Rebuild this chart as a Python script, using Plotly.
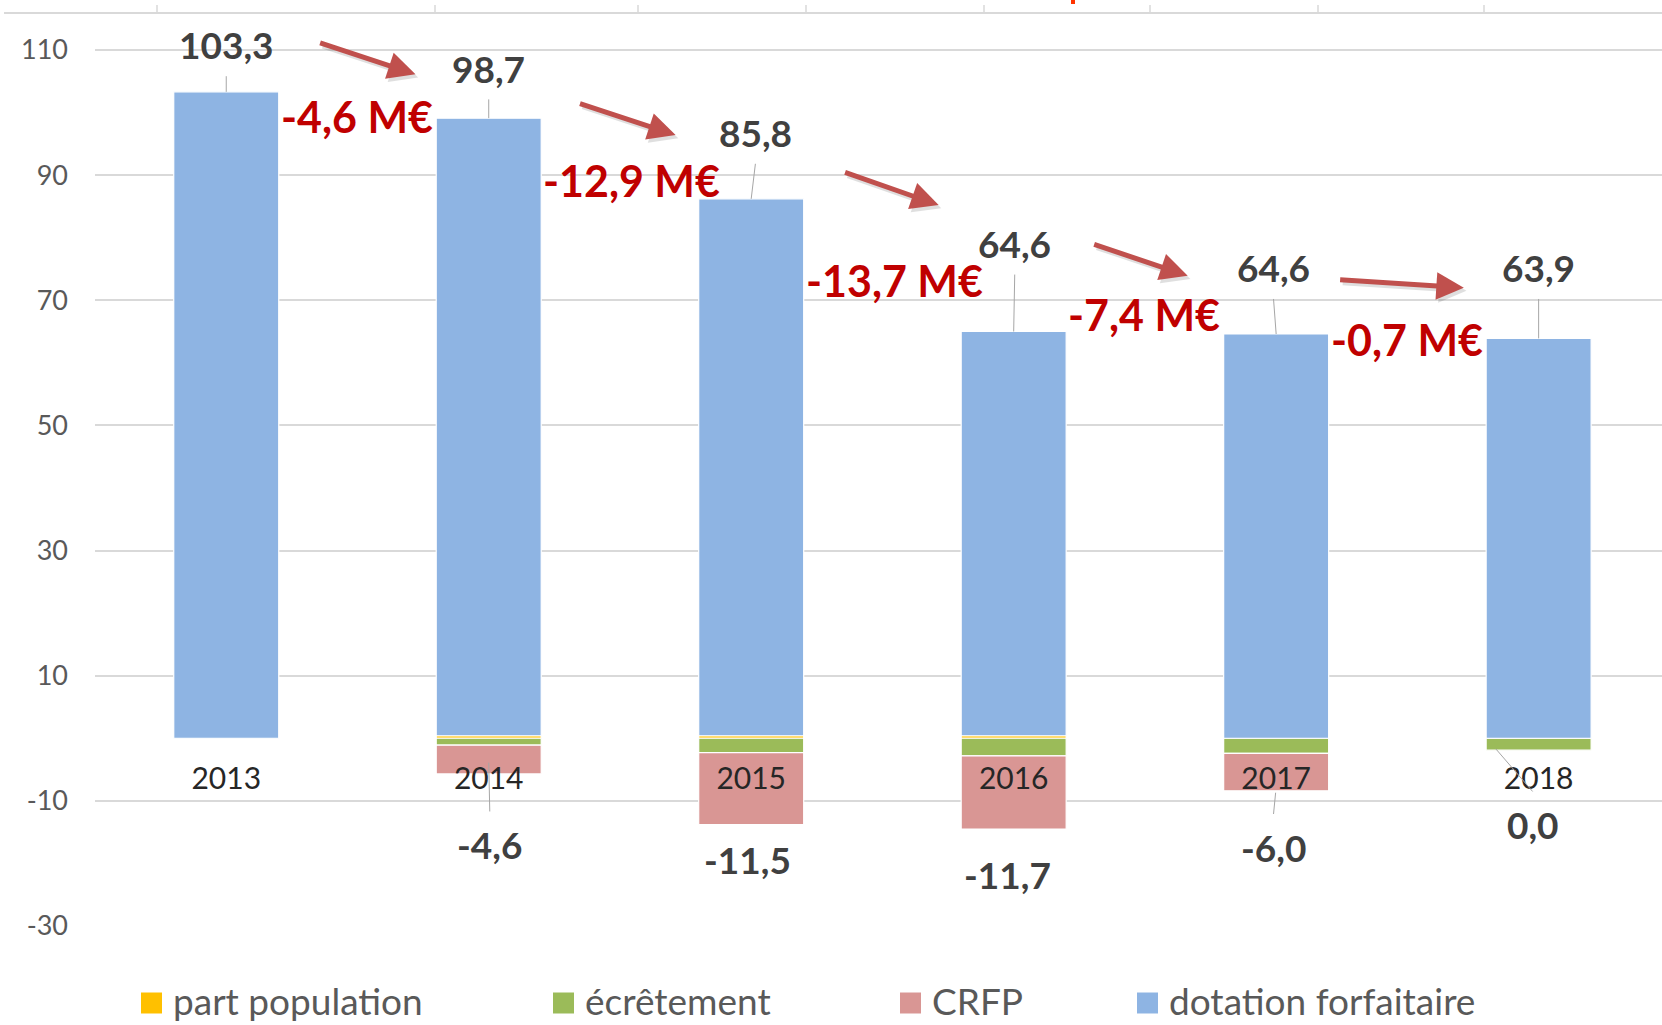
import plotly.graph_objects as go

# ---------------- data ----------------
years = ["2013", "2014", "2015", "2016", "2017", "2018"]
part_population = [0.0, 0.4, 0.4, 0.4, 0.0, 0.0]
ecretement = [0.0, -1.1, -2.3, -2.8, -2.4, -1.9]
crfp = [0.0, -4.6, -11.5, -11.7, -6.0, 0.0]
dotation = [103.3, 98.7, 85.8, 64.6, 64.6, 63.9]
variation_labels = ["-4,6 M€", "-12,9 M€", "-13,7 M€", "-7,4 M€", "-0,7 M€"]
series_names = ["part population", "écrêtement", "CRFP", "dotation forfaitaire"]
series_colors = ["#FFC000", "#9BBB59", "#D99694", "#8EB4E3"]
ytick_values = [-30, -10, 10, 30, 50, 70, 90, 110]

# ---------------- geometry helpers ----------------
W, H = 1662, 1025
ML, MR, MT, MB = 95, 0, 13, 99
PW, PH = W - ML - MR, H - MT - MB
YMIN, YMAX = -30, 115.9
XMIN, XMAX = -0.5, 5.47


def fr(v):
    s = f"{abs(v):.1f}".replace(".", ",")
    return ("-" + s) if v < -0.04 else s


def pxx(p):
    return (p - ML) / PW


def pxy(p):
    return (H - MB - p) / PH


FONT = "Lato, 'Open Sans', sans-serif"
xs = list(range(len(years)))

fig = go.Figure()
for name, vals, col in zip(series_names, [part_population, ecretement, crfp, dotation], series_colors):
    fig.add_trace(go.Bar(
        x=xs, y=vals, name=name, width=0.4,
        marker=dict(color=col, line=dict(color="white", width=1.2)),
        showlegend=False,
    ))

annotations = []
shapes = []

# top data labels (dotation forfaitaire)
top_dx = [0, 0, 0.016, 0.004, -0.01, 0]
top_dy = [7.5, 8.4, 11.0, 14.5, 10.6, 11.3]
for i, v in enumerate(dotation):
    base = v + max(part_population[i], 0)
    ly = v + top_dy[i]
    lx = i + top_dx[i]
    annotations.append(dict(x=lx, y=ly, xref="x", yref="y", text=fr(v), showarrow=False,
                            font=dict(family=FONT, size=37, color="#404040", weight="bold")))
    shapes.append(dict(type="line", xref="x", yref="y", x0=lx, y0=ly - 5.0, x1=i, y1=base,
                       line=dict(color="#A6A6A6", width=1)))

# bottom data labels (CRFP)
bot_dx = [0.004, -0.014, -0.022, -0.01, -0.023]
bot_y = [-17.0, -19.4, -21.7, -17.4, -13.8]
bot_leader = [(1.0, -3.9), None, None, (3.998, -8.7), (4.837, -1.7)]
for k, i in enumerate(range(1, len(years))):
    lx = i + bot_dx[k]
    ly = bot_y[k]
    annotations.append(dict(x=lx, y=ly, xref="x", yref="y", text=fr(crfp[i]), showarrow=False,
                            font=dict(family=FONT, size=37, color="#404040", weight="bold")))
    if bot_leader[k] is not None:
        sx, sy = bot_leader[k]
        shapes.append(dict(type="line", xref="x", yref="y", x0=sx, y0=sy, x1=lx, y1=ly + 5.3,
                           line=dict(color="#A6A6A6", width=1)))

# red variation labels
var_y = [99.3, 89.2, 73.1, 67.7, 63.8]
for i, t in enumerate(variation_labels):
    annotations.append(dict(x=i + 0.2, y=var_y[i], xref="x", yref="y", text=t, showarrow=False,
                            xanchor="left", yanchor="middle",
                            font=dict(family=FONT, size=43, color="#C00000", weight="bold")))

# arrows
arrows = [((0.352, 111.2), (0.721, 106.1)),
          ((1.342, 101.5), (1.712, 96.4)),
          ((2.352, 90.5), (2.714, 85.2)),
          ((3.301, 79.0), (3.663, 73.9)),
          ((4.238, 73.3), (4.715, 72.0))]
for (tx, ty), (hx, hy) in arrows:
    annotations.append(dict(x=hx + 0.01, y=hy - 0.5, ax=tx + 0.01, ay=ty - 0.5, xref="x", yref="y",
                            axref="x", ayref="y", text="", showarrow=True, arrowhead=2,
                            arrowsize=1.1, arrowwidth=5, arrowcolor="rgba(0,0,0,0.12)"))
    annotations.append(dict(x=hx, y=hy, ax=tx, ay=ty, xref="x", yref="y", axref="x", ayref="y",
                            text="", showarrow=True, arrowhead=2, arrowsize=1.1, arrowwidth=5,
                            arrowcolor="#C0504D"))

# manual legend
leg_marker_px = [141, 553, 900, 1137]
leg_y = 1003
for name, col, mx in zip(series_names, series_colors, leg_marker_px):
    shapes.append(dict(type="rect", xref="paper", yref="paper", xsizemode="pixel", ysizemode="pixel",
                       xanchor=pxx(mx), yanchor=pxy(leg_y), x0=0, x1=21, y0=-10.5, y1=10.5,
                       fillcolor=col, line=dict(width=0), layer="above"))
    annotations.append(dict(x=pxx(mx + 30), y=pxy(H), xref="paper", yref="paper", text=name,
                            showarrow=False, xanchor="left", yanchor="bottom",
                            font=dict(family=FONT, size=37, color="#595959")))

# top border line (cropped chart above) with ticks
shapes.append(dict(type="line", xref="paper", yref="paper", x0=pxx(4), x1=1, y0=1, y1=1,
                   line=dict(color="#D9D9D9", width=2)))
for tx in [157, 435, 638, 806, 984, 1150, 1318, 1484]:
    shapes.append(dict(type="line", xref="paper", yref="paper", x0=pxx(tx), x1=pxx(tx),
                       y0=1, y1=pxy(5), line=dict(color="#D9D9D9", width=1.5)))
shapes.append(dict(type="rect", xref="paper", yref="paper", x0=pxx(1071), x1=pxx(1075),
                   y0=pxy(4), y1=pxy(0), fillcolor="#FF3300", line=dict(width=0)))

fig.update_layout(
    width=W, height=H,
    margin=dict(l=ML, r=MR, t=MT, b=MB, pad=0),
    barmode="relative",
    bargap=0.6,
    plot_bgcolor="white", paper_bgcolor="white",
    font=dict(family=FONT),
    showlegend=False,
    annotations=annotations,
    shapes=shapes,
    xaxis=dict(range=[XMIN, XMAX], tickvals=xs, ticktext=years, showgrid=False, zeroline=False,
               showline=False, anchor="free", position=(0 - YMIN) / (YMAX - YMIN),
               ticks="", ticklabelstandoff=20,
               tickfont=dict(family=FONT, size=30, color="#262626")),
    yaxis=dict(range=[YMIN, YMAX], tickvals=ytick_values, ticktext=[str(v) for v in ytick_values],
               showgrid=True, gridcolor="#D9D9D9",
               gridwidth=2, zeroline=False, showline=False, ticks="", ticklabelstandoff=26,
               tickfont=dict(family=FONT, size=27, color="#595959")),
)

fig.write_html(
    "out.html",
    config={"displayModeBar": False},
    post_script="document.body.style.margin='0';document.body.style.overflow='hidden';"
                "document.documentElement.style.overflow='hidden';",
)
